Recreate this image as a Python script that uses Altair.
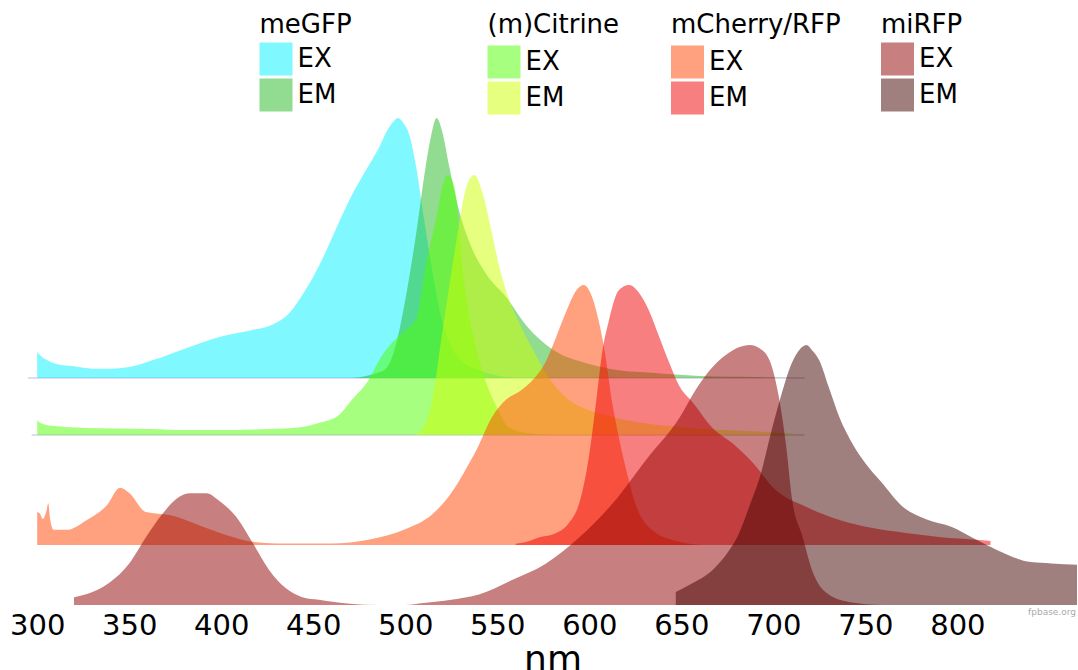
import altair as alt
import pandas as pd

FONT = "DejaVu Sans"

# ---------------- data (normalised spectra) ----------------
megfp_ex_nm = [300, 302, 305, 310, 320, 330, 340, 350, 363, 381, 399, 417, 426, 437, 445, 453, 459, 464, 470, 477, 482, 486, 490, 494, 496, 499, 502, 506, 510, 515, 520, 525, 530, 540, 550, 560]
megfp_ex_v = [0.10, 0.085, 0.07, 0.055, 0.045, 0.036, 0.036, 0.042, 0.069, 0.115, 0.158, 0.185, 0.20, 0.25, 0.33, 0.43, 0.52, 0.60, 0.69, 0.78, 0.84, 0.89, 0.95, 0.99, 1.0, 0.98, 0.94, 0.81, 0.62, 0.40, 0.22, 0.12, 0.07, 0.03, 0.01, 0.0]
megfp_em_nm = [470, 480, 485, 490, 495, 500, 506, 511, 514, 517, 520, 524, 529, 535, 544, 555, 566, 580, 598, 616, 634, 660, 690, 715]
megfp_em_v = [0.0, 0.01, 0.02, 0.04, 0.13, 0.30, 0.56, 0.81, 0.93, 1.0, 0.95, 0.81, 0.65, 0.52, 0.40, 0.31, 0.20, 0.11, 0.058, 0.03, 0.02, 0.008, 0.004, 0.0]

citrine_ex_nm = [300, 302, 308, 326, 362, 380, 398, 425, 443, 453, 464, 471, 480, 486, 491, 498, 506, 511, 517, 520, 523, 526, 528, 531, 535, 539, 544, 549.5, 556, 566, 580]
citrine_ex_v = [0.058, 0.045, 0.035, 0.027, 0.023, 0.019, 0.019, 0.023, 0.03, 0.046, 0.077, 0.135, 0.21, 0.29, 0.34, 0.39, 0.45, 0.65, 0.84, 0.95, 1.0, 0.97, 0.90, 0.65, 0.45, 0.32, 0.20, 0.11, 0.03, 0.008, 0.0]
citrine_em_nm = [505, 510, 514.5, 520, 525.6, 529, 533, 537.5, 542, 547, 551, 555, 562, 570, 578, 590, 600, 612, 630, 650, 670, 700, 717]
citrine_em_v = [0.0, 0.03, 0.13, 0.39, 0.65, 0.80, 0.95, 1.0, 0.93, 0.78, 0.65, 0.55, 0.43, 0.32, 0.22, 0.13, 0.095, 0.07, 0.045, 0.03, 0.02, 0.01, 0.0]

mcherry_ex_nm = [300, 301.5, 303, 305, 306, 307, 309, 316, 327, 338, 345, 350, 359, 372, 390, 408, 417, 430, 460, 480, 500, 515, 525, 532, 539, 547, 555, 562, 570, 576, 582, 587, 593, 597, 601.7, 605, 608, 612.6, 616, 620, 625, 634, 649, 660]
mcherry_ex_v = [0.127, 0.12, 0.10, 0.13, 0.16, 0.10, 0.058, 0.058, 0.096, 0.154, 0.22, 0.20, 0.127, 0.115, 0.07, 0.027, 0.012, 0.006, 0.006, 0.02, 0.06, 0.12, 0.2, 0.28, 0.37, 0.49, 0.56, 0.59, 0.64, 0.70, 0.80, 0.89, 0.98, 1.0, 0.95, 0.865, 0.76, 0.54, 0.415, 0.29, 0.16, 0.058, 0.012, 0.0]
mcherry_em_nm = [560, 565, 573, 580, 589, 594.5, 600, 603.7, 607, 610.7, 616, 621.6, 627, 632.5, 638, 643.5, 649, 656, 667, 678, 689, 700, 718, 736, 754, 772, 790, 812, 818]
mcherry_em_v = [0.005, 0.01, 0.03, 0.04, 0.085, 0.16, 0.35, 0.55, 0.74, 0.865, 0.98, 1.0, 0.97, 0.9, 0.8, 0.7, 0.61, 0.55, 0.45, 0.39, 0.315, 0.22, 0.146, 0.096, 0.065, 0.046, 0.031, 0.019, 0.015]

mirfp_ex_nm = [320, 330, 339, 350, 359, 368, 377, 383, 392, 399, 408, 417, 426, 435, 444, 453, 470, 485, 500, 510, 525, 540, 558, 576.5, 594.5, 612.6, 631, 649, 658, 667, 678, 687, 694, 698, 703, 707, 710, 716, 721, 729, 741, 760]
mirfp_ex_v = [0.03, 0.05, 0.085, 0.16, 0.26, 0.35, 0.415, 0.43, 0.43, 0.40, 0.34, 0.24, 0.135, 0.065, 0.03, 0.02, 0.005, 0.0, 0.0, 0.008, 0.02, 0.04, 0.096, 0.16, 0.26, 0.39, 0.56, 0.72, 0.83, 0.915, 0.98, 1.0, 0.98, 0.94, 0.8, 0.61, 0.415, 0.26, 0.135, 0.046, 0.012, 0.0]
mirfp_em_nm = [647, 655, 667, 675, 681, 687, 693, 699, 704, 710, 714, 718, 721, 725, 730, 736, 743, 750, 759, 770, 783, 797, 808, 819, 830, 840, 851, 865]
mirfp_em_v = [0.05, 0.08, 0.135, 0.2, 0.27, 0.38, 0.5, 0.67, 0.8, 0.93, 0.98, 1.0, 0.98, 0.94, 0.84, 0.72, 0.62, 0.545, 0.47, 0.38, 0.33, 0.30, 0.26, 0.22, 0.185, 0.165, 0.16, 0.155]

proteins = ["meGFP", "(m)Citrine", "mCherry/RFP", "miRFP"]
offsets = [0.873, 0.654, 0.231, 0.0]
colors = [["#00f1ff", "#23b923"], ["#4dff00", "#cdff00"], ["#ff4100", "#ef0000"], ["#8f0000", "#410000"]]
legend_pos = [(231.5, 11.5), (459.5, 11.5), (643, 11.5), (853, 11.5)]
legend_title_pad = [5, 8, 8, 5]
tick_values = [300, 350, 400, 450, 500, 550, 600, 650, 700, 750, 800]

# baseline guide lines for the two upper ridges
guide_start = [295, 297]
guide_end = [717, 717]
guide_offset = [0.873, 0.654]

series = [
    (megfp_ex_nm, megfp_ex_v, megfp_em_nm, megfp_em_v),
    (citrine_ex_nm, citrine_ex_v, citrine_em_nm, citrine_em_v),
    (mcherry_ex_nm, mcherry_ex_v, mcherry_em_nm, mcherry_em_v),
    (mirfp_ex_nm, mirfp_ex_v, mirfp_em_nm, mirfp_em_v),
]

x_scale = alt.Scale(domain=[295, 865], nice=False, zero=False)
y_scale = alt.Scale(domain=[0, 2.327], nice=False, zero=False)
x_axis = alt.Axis(values=tick_values, title="nm", grid=False, domain=False, ticks=False,
                  tickSize=0, labelFontSize=29, labelFont=FONT, labelColor="black",
                  labelPadding=6, labelFlush=False, format="d", titleFontSize=36,
                  titleFont=FONT, titleFontWeight="normal", titleColor="black",
                  titlePadding=2)


def make_df(ex_nm, ex_v, em_nm, em_v, off):
    rows = []
    for n, v in zip(ex_nm, ex_v):
        rows.append({"nm": n, "type": "EX", "top": v + off, "base": off})
    for n, v in zip(em_nm, em_v):
        rows.append({"nm": n, "type": "EM", "top": v + off, "base": off})
    return pd.DataFrame(rows)


guides = pd.DataFrame({"x": guide_start, "x2": guide_end, "y": guide_offset})
rule = alt.Chart(guides).mark_rule(color="#d2d2ea", strokeWidth=1.5).encode(
    x=alt.X("x:Q", scale=x_scale, axis=x_axis),
    x2="x2:Q",
    y=alt.Y("y:Q", scale=y_scale, axis=None),
)

layers = [rule]
for name, (exn, exv, emn, emv), off, cols, (lx, ly), tp in zip(
        proteins, series, offsets, colors, legend_pos, legend_title_pad):
    df = make_df(exn, exv, emn, emv, off)
    layer = alt.Chart(df).mark_area(opacity=0.5, interpolate="monotone").encode(
        x=alt.X("nm:Q", scale=x_scale, axis=x_axis),
        y=alt.Y("top:Q", scale=y_scale, axis=None),
        y2="base:Q",
        color=alt.Color("type:N", scale=alt.Scale(domain=["EX", "EM"], range=cols),
                        legend=alt.Legend(title=name, orient="none", legendX=lx, legendY=ly,
                                          titleFont=FONT, titleFontSize=26, titleFontWeight="normal",
                                          titleColor="black", titlePadding=tp,
                                          labelFont=FONT, labelFontSize=26, labelColor="black",
                                          labelOffset=5, symbolType="square", symbolSize=1089,
                                          symbolStrokeWidth=0, symbolOpacity=0.5, rowPadding=3,
                                          padding=0)),
    )
    layers.append(layer)

credit = alt.Chart(pd.DataFrame({"t": ["fpbase.org"]})).mark_text(
    font=FONT, fontSize=9, color="#aaaaaa", align="right", baseline="top"
).encode(text="t:N", x=alt.value(1048), y=alt.value(608))
layers.append(credit)

chart = alt.layer(*layers).resolve_scale(color="independent").properties(
    width=1049, height=605,
    padding={"left": 9, "top": 0, "right": 0, "bottom": 0},
    background="white",
).configure_view(stroke=None)

chart.save("out.html", embed_options={"renderer": "svg", "actions": False})
